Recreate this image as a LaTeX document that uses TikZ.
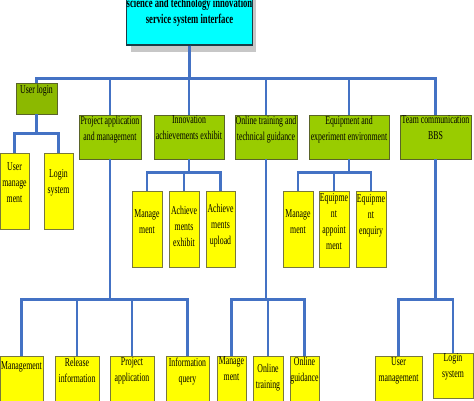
\documentclass[tikz,border=0pt]{standalone}
\usepackage{fontspec}
\setmainfont[FakeStretch=0.65]{Liberation Serif}
\usepackage{tikz}
\usetikzlibrary{shapes, shadows, calc, positioning}
\definecolor{linkblue}{RGB}{68,114,196}
\definecolor{rootcyan}{RGB}{0,255,255}
\definecolor{rootedge}{RGB}{25,60,70}
\definecolor{catgreen}{RGB}{153,204,0}
\definecolor{logingreen}{RGB}{140,185,0}
\definecolor{catedge}{RGB}{90,100,40}
\definecolor{leafyellow}{RGB}{255,255,0}
\definecolor{leafedge}{RGB}{120,120,60}
\tikzset{
  link/.style = {draw=linkblue, line width=2.4pt},
  rootbox/.style = {draw=rootedge, line width=1.2pt, fill=rootcyan, font=\fontsize{13.3pt}{16pt}\selectfont\bfseries, align=center,
                    minimum width=121pt, minimum height=66pt, inner sep=0pt,
                    drop shadow={shadow xshift=4pt, shadow yshift=-7pt, fill=black!22, opacity=1}},
  catbox/.style = {draw=catedge, line width=0.8pt, fill=catgreen, minimum height=44pt, inner sep=0pt},
  leafbox/.style = {draw=leafedge, line width=0.8pt, fill=leafyellow, minimum height=76pt, inner sep=0pt},
  toptx/.style = {anchor=north, align=center, inner sep=0pt},
  midtx/.style = {align=center, inner sep=0pt},
}

\begin{document}
\begin{tikzpicture}[x=1pt, y=-1pt, font=\fontsize{12pt}{16pt}\selectfont]
            \useasboundingbox (0,0) rectangle (474,401);
            %\draw (0,0) rectangle (474,401);

            % root
            \node[rootbox] (root) at (189.5,12) {science and technology innovation\\service system interface};

            % second level
            \node[catbox, fill=logingreen, minimum width=41pt, minimum height=31pt] (ulogin) at (36.5,98.5) {};
            \node[toptx, yshift=-2pt] (ulogintx) at (ulogin.north) {User login};
            \node[catbox, minimum width=62pt] (proj) at (110,137) {};
            \node[toptx, yshift=-1pt] (projtx) at (proj.north) {Project application\\and management};
            \node[catbox, minimum width=70pt] (innov) at (189,137) {};
            \node[toptx, yshift=-1pt] (innovtx) at (innov.north) {Innovation\\achievements exhibit};
            \node[catbox, minimum width=62pt] (online) at (266,137) {};
            \node[toptx, yshift=-1pt] (onlinetx) at (online.north) {Online training and\\technical guidance};
            \node[catbox, minimum width=80pt] (equip) at (349,137) {};
            \node[toptx, yshift=-1pt] (equiptx) at (equip.north) {Equipment and\\experiment environment};
            \node[catbox, minimum width=71pt] (team) at (435.5,137) {};
            \node[toptx, yshift=-1pt] (teamtx) at (team.north) {Team communication\\BBS};

            % user login leaves
            \node[leafbox, minimum width=29pt] (umgmt) at (14.5,191) {};
            \node[midtx, yshift=8pt] (umgmttx) at (umgmt.center) {User\\manage\\ment};
            \node[leafbox, minimum width=29pt] (lsys) at (58.5,191) {};
            \node[midtx, yshift=8pt] (lsystx) at (lsys.center) {Login\\system};

            % innovation leaves
            \node[leafbox, minimum width=30pt] (imgmt) at (147,229) {};
            \node[midtx, yshift=7.5pt] (imgmttx) at (imgmt.center) {Manage\\ment};
            \node[leafbox, minimum width=30pt] (aexh) at (184,229) {};
            \node[midtx, yshift=3pt] (aexhtx) at (aexh.center) {Achieve\\ments\\exhibit};
            \node[leafbox, minimum width=29pt] (aupl) at (220.5,229) {};
            \node[midtx, yshift=3pt] (aupltx) at (aupl.center) {Achieve\\ments\\upload};

            % equipment leaves
            \node[leafbox, minimum width=30pt] (emgmt) at (298,229) {};
            \node[midtx, yshift=7.5pt] (emgmttx) at (emgmt.center) {Manage\\ment};
            \node[leafbox, minimum width=30pt] (eappt) at (334,229) {};
            \node[midtx, yshift=7.5pt] (eappttx) at (eappt.center) {Equipme\\nt\\appoint\\ment};
            \node[leafbox, minimum width=30pt] (eenq) at (371,229) {};
            \node[midtx, yshift=13pt] (eenqtx) at (eenq.center) {Equipme\\nt\\enquiry};

            % project leaves
            \node[leafbox, minimum width=43pt, minimum height=74pt] (pmgmt) at (21.5,393) {};
            \node[toptx, yshift=-6pt] (pmgmttx) at (pmgmt.north) {Management};
            \node[leafbox, minimum width=44pt, minimum height=74pt] (prel) at (77,393) {};
            \node[toptx, yshift=-2pt] (preltx) at (prel.north) {Release\\information};
            \node[leafbox, minimum width=44pt, minimum height=74pt] (papp) at (132,393) {};
            \node[toptx, yshift=-2pt] (papptx) at (papp.north) {Project\\application};
            \node[leafbox, minimum width=43pt, minimum height=74pt] (pinfo) at (187.5,393) {};
            \node[toptx, yshift=-2pt] (pinfotx) at (pinfo.north) {Information\\query};

            % online leaves
            \node[leafbox, minimum width=29pt, minimum height=74pt] (omgmt) at (231.5,393) {};
            \node[toptx, yshift=-1pt] (omgmttx) at (omgmt.north) {Manage\\ment};
            \node[leafbox, minimum width=30pt, minimum height=74pt] (otrain) at (268,393) {};
            \node[toptx, yshift=-8pt] (otraintx) at (otrain.north) {Online\\training};
            \node[leafbox, minimum width=29pt, minimum height=74pt] (oguide) at (304.5,393) {};
            \node[toptx, yshift=-1pt] (oguidetx) at (oguide.north) {Online\\guidance};

            % team leaves
            \node[leafbox, minimum width=47pt, minimum height=74pt] (tuser) at (398.5,393) {};
            \node[toptx, yshift=-2pt] (tusertx) at (tuser.north) {User\\management};
            \node[leafbox, minimum width=40pt, minimum height=45pt] (tlogin) at (453,375.5) {};
            \node[toptx, yshift=-1pt] (tlogintx) at (tlogin.north) {Login\\system};

            % root to second level
            \draw[link] (root.south) -- ++(0,33) -| (ulogin.north);
            \draw[link] (root.south) -- ++(0,33) -| (proj.north);
            \draw[link] (root.south) -- ++(0,33) -| (innov.north);
            \draw[link] (root.south) -- ++(0,33) -| (online.north);
            \draw[link] (root.south) -- ++(0,33) -| (equip.north);
            \draw[link] (root.south) -- ++(0,33) -| (team.north);

            % second level to leaves
            \draw[link] (ulogin.south) -- ++(0,19) -| (umgmt.north);
            \draw[link] (ulogin.south) -- ++(0,19) -| (lsys.north);

            \draw[link] (innov.south) -- ++(0,13) -| (imgmt.north);
            \draw[link] (innov.south) -- ++(0,13) -| (aexh.north);
            \draw[link] (innov.south) -- ++(0,13) -| (aupl.north);

            \draw[link] (equip.south) -- ++(0,13) -| (emgmt.north);
            \draw[link] (equip.south) -- ++(0,13) -| (eappt.north);
            \draw[link] (equip.south) -- ++(0,13) -| (eenq.north);

            \draw[link] (proj.south) -- ++(0,140) -| (pmgmt.north);
            \draw[link] (proj.south) -- ++(0,140) -| (prel.north);
            \draw[link] (proj.south) -- ++(0,140) -| (papp.north);
            \draw[link] (proj.south) -- ++(0,140) -| (pinfo.north);

            \draw[link] (online.south) -- ++(0,140) -| (omgmt.north);
            \draw[link] (online.south) -- ++(0,140) -| (otrain.north);
            \draw[link] (online.south) -- ++(0,140) -| (oguide.north);

            \draw[link] (team.south) -- ++(0,140) -| (tuser.north);
            \draw[link] (team.south) -- ++(0,140) -| (tlogin.north);
          \end{tikzpicture}
\end{document}
